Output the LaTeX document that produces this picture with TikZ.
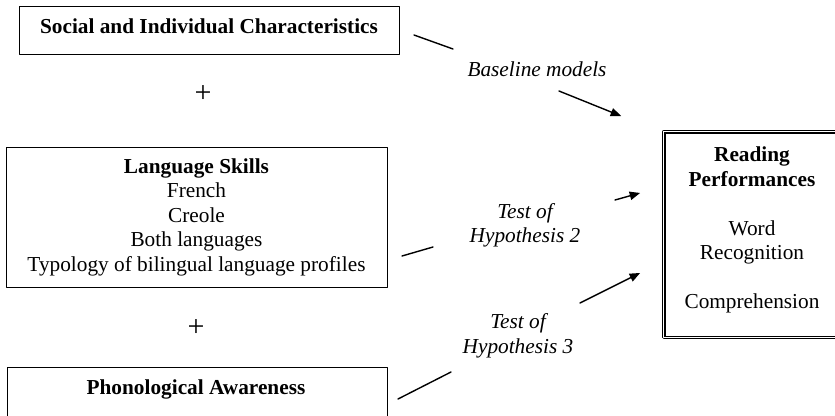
\documentclass[tikz,border=0pt]{standalone}
\usepackage{fontspec}
\setmainfont{Liberation Serif}
\usepackage{pgf,tikz}
\usetikzlibrary{arrows}
\usetikzlibrary{positioning}

\begin{document}
\begin{tikzpicture}[line cap=round,line join=round,>=triangle 45,x=1pt,y=-1pt,
  every node/.style={font=\fontsize{21.3}{24.5}\selectfont},
  boxnode/.style={draw=black,line width=1pt,align=center,inner sep=0pt},
  plussign/.style={font=\fontsize{30}{30}\selectfont},
  lbl/.style={font=\fontsize{21.3}{24.5}\selectfont\itshape,align=center},
  link/.style={line width=1.4pt,color=black}]
\useasboundingbox (0,0) rectangle (835,415);
\clip(0,0) rectangle (835,415);
% left column
\node[boxnode,minimum width=380,minimum height=48,text depth=7pt] (social) at (209,30) {\bfseries Social and Individual Characteristics};
\node[plussign] (plusA) at (203,94) {+};
\node[boxnode,minimum width=381,minimum height=140] (lang) at (196.5,217) {\textbf{Language Skills}\\French\\Creole\\Both languages\\Typology of bilingual language profiles};
\node[plussign] (plusB) at (196,328) {+};
\node[boxnode,minimum width=380,minimum height=80,anchor=north] (phon) at (197,367) {};
\node (phontxt) at (196,389) {\bfseries Phonological Awareness};
% outcome
\node[draw=black,double,double distance=1.3pt,line width=1.1pt,minimum width=176.5,minimum height=205.5,align=center,text depth=13pt] (read) at (752,234.5) {\textbf{Reading}\\\textbf{Performances}\\[24.5pt]Word\\Recognition\\[24.5pt]Comprehension};
% labels
\node[lbl] (base) at (537,69) {Baseline models};
\node[lbl] (hypA) at (525,225.5) {Test of\\Hypothesis 2};
\node[lbl] (hypB) at (518,336) {Test of\\Hypothesis 3};
% connectors
\coordinate (socOut) at (414,35);
\coordinate (baseIn) at (453,49);
\coordinate (baseOut) at (559,91);
\coordinate (readA) at (621,116);
\coordinate (langOut) at (402,256);
\coordinate (hypAIn) at (433,247);
\coordinate (hypAOut) at (615,200);
\coordinate (readB) at (640,193);
\coordinate (phonOut) at (398,399);
\coordinate (hypBIn) at (451,372);
\coordinate (hypBOut) at (580,303);
\coordinate (readC) at (640,273);
\draw[link] (socOut) -- (baseIn);
\draw[link,->] (baseOut) -- (readA);
\draw[link] (langOut) -- (hypAIn);
\draw[link,->] (hypAOut) -- (readB);
\draw[link] (phonOut) -- (hypBIn);
\draw[link,->] (hypBOut) -- (readC);
\end{tikzpicture}
\end{document}
